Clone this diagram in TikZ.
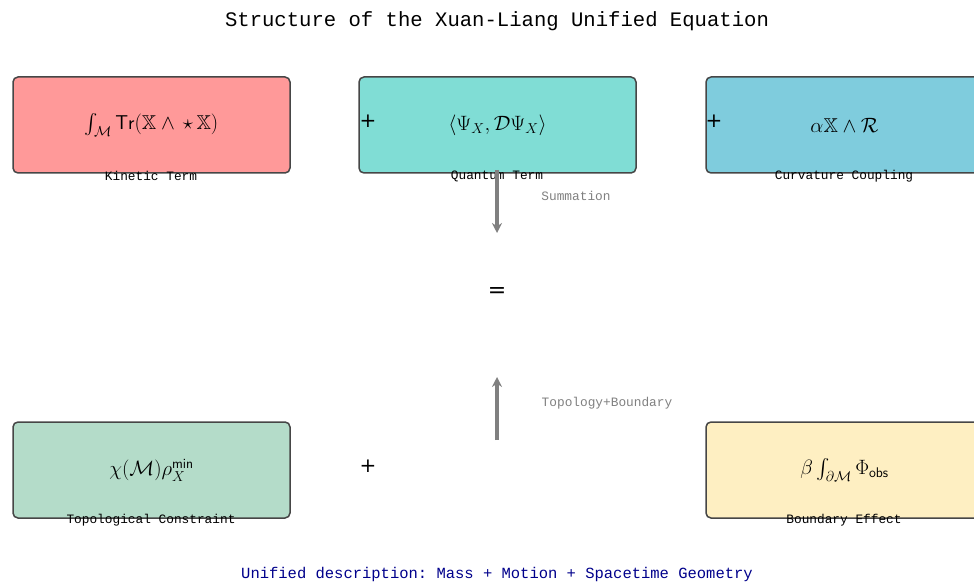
\documentclass[tikz,border=0pt]{standalone}
\usepackage{amsmath,amssymb}
\usepackage{fontspec}
\setmonofont{Liberation Mono}
\newfontfamily\symfont{DejaVu Sans}
\usepackage{tikz}
\usetikzlibrary{arrows.meta,positioning,calc}
\definecolor{kincol}{RGB}{255,153,153}
\definecolor{quancol}{RGB}{128,221,213}
\definecolor{curvcol}{RGB}{127,204,221}
\definecolor{topocol}{RGB}{180,220,201}
\definecolor{boundcol}{RGB}{254,239,194}
\definecolor{edgegray}{RGB}{70,70,70}
\definecolor{arrgray}{RGB}{128,128,128}
\definecolor{footnavy}{RGB}{0,0,139}
\tikzset{
  termbox/.style={rectangle,rounded corners=5pt,draw=edgegray,line width=1.5pt,
    minimum width=277pt,minimum height=96pt,inner sep=0pt,
    font=\fontsize{20}{22}\selectfont},
  termlbl/.style={font=\ttfamily\fontsize{12.8}{14}\selectfont,inner sep=0pt},
  plusnode/.style={font=\symfont\fontsize{20}{22}\selectfont,inner sep=0pt},
  flowlbl/.style={font=\ttfamily\fontsize{12.8}{14}\selectfont,text=arrgray,inner sep=0pt},
  flowarr/.style={-{Stealth[length=10pt,width=10pt]},line width=3.5pt,color=arrgray}
}

\begin{document}
\begin{tikzpicture}[x=1pt,y=-1pt]
  \useasboundingbox (0,0) rectangle (974,585);
  \clip (0,0) rectangle (974,585);

  %% Title
  \node[font=\ttfamily\fontsize{20.6}{24}\selectfont,inner sep=0pt] (title) at (497,21)
    {Structure of the Xuan-Liang Unified Equation};

  %% Top row
  \node[termbox,fill=kincol] (kin) at (151.5,125)
    {$\int_{\mathcal{M}}\mathsf{Tr}(\mathbb{X}\wedge\,\star\,\mathbb{X})$};
  \node[termbox,fill=quancol] (quan) at (497.5,125)
    {$\langle\Psi_X,\mathcal{D}\Psi_X\rangle$};
  \node[termbox,fill=curvcol] (curv) at (844.5,125)
    {$\alpha\mathbb{X}\wedge\mathcal{R}$};
  \node[termlbl] (kinlbl) at (151,176) {Kinetic Term};
  \node[termlbl] (quanlbl) at (497,176) {Quantum Term};
  \node[termlbl] (curvlbl) at (844,176) {Curvature Coupling};
  \node[plusnode] (plus1) at (368,121) {+};
  \node[plusnode] (plus2) at (714,121) {+};

  %% Equals
  \node[font=\symfont\fontsize{22}{24}\selectfont,inner sep=0pt] (eq) at (497,293) {=};

  %% Bottom row
  \node[termbox,fill=topocol] (topo) at (151.5,470)
    {$\chi(\mathcal{M})\rho_X^{\mathsf{min}}$};
  \node[termbox,fill=boundcol] (bound) at (844.5,470)
    {$\beta\int_{\partial\mathcal{M}}\Phi_{\mathsf{obs}}$};
  \node[termlbl] (topolbl) at (151,520) {Topological Constraint};
  \node[termlbl] (boundlbl) at (844,520) {Boundary Effect};
  \node[plusnode] (plus3) at (368,466) {+};

  %% Flow arrows
  \coordinate (sumtop) at (497,170);
  \coordinate (sumend) at (497,233);
  \coordinate (tbstart) at (497,440);
  \coordinate (tbend) at (497,377);
  \draw[flowarr] (sumtop) -- (sumend);
  \draw[flowarr] (tbstart) -- (tbend);
  \node[flowlbl] (sumlbl) at (576,196) {Summation};
  \node[flowlbl] (tblbl) at (607,403) {Topology+Boundary};

  %% Footer
  \node[font=\ttfamily\fontsize{15.5}{18}\selectfont,text=footnavy,inner sep=0pt] (foot) at (497,574)
    {Unified description: Mass + Motion + Spacetime Geometry};
\end{tikzpicture}
\end{document}
